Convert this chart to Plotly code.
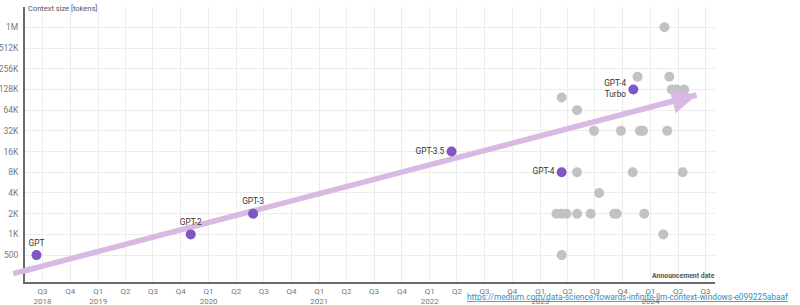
import math
from datetime import date, timedelta
import plotly.graph_objects as go

# ---- data ----
gpt_names = ["GPT", "GPT-2", "GPT-3", "GPT-3.5", "GPT-4", "GPT-4<br>Turbo"]
gpt_dates = ["2018-06-11", "2019-11-03", "2020-05-27", "2022-03-14", "2023-03-13", "2023-11-05"]
gpt_tokens = [512, 1024, 2048, 16384, 8192, 131072]
gpt_textpos = ["top center", "top center", "top center", "middle left", "middle left", "middle left"]

other_dates = [
    "2024-02-16", "2023-03-13", "2023-05-03", "2023-11-19", "2024-03-03",
    "2024-03-11", "2024-03-27", "2024-04-21",
    "2023-06-28", "2023-09-25", "2023-11-27", "2023-12-07", "2024-02-25",
    "2023-05-03", "2023-11-03", "2024-04-16",
    "2023-07-15",
    "2023-02-24", "2023-03-13", "2023-03-29", "2023-05-03", "2023-06-17",
    "2023-09-03", "2023-09-11", "2023-12-11",
    "2024-02-12",
    "2023-03-13",
]
other_tokens = [
    1048576, 100000, 65536, 200000, 200000,
    131072, 131072, 131072,
    32768, 32768, 32768, 32768, 32768,
    8192, 8192, 8192,
    4096,
    2048, 2048, 2048, 2048, 2048,
    2048, 2048, 2048,
    1024,
    512,
]

y_tickvals = [512, 1024, 2048, 4096, 8192, 16384, 32768, 65536, 131072, 262144, 524288, 1048576]
y_ticktext = ["500", "1K", "2K", "4K", "8K", "16K", "32K", "64K", "128K", "256K", "512K", "1M"]

x_tickvals = []
x_ticktext = []
for yr in range(2018, 2025):
    for q, m in ((1, "01"), (2, "04"), (3, "07"), (4, "10")):
        if (yr == 2018 and q < 3) or (yr == 2024 and q > 3):
            continue
        x_tickvals.append(f"{yr}-{m}-01")
        x_ticktext.append(f"Q{q}<br>{yr}" if (q == 1 or (yr == 2018 and q == 3)) else f"Q{q}")

x_range = ["2018-05-04", "2024-08-01"]
y_range_tokens = [208, 2 ** 20.98]

trend_start = ("2018-03-21", 271)
trend_end = ("2024-06-01", 108700)

link_text = "https://medium.com/data-science/towards-infinite-llm-context-windows-e099225abaaf"

FONT = "Roboto"
PURPLE = "#7e57c2"
GRAY = "#c2c2c2"
ARROW = "#d8b9e4"
ARROW_W = 5.5


def trend_point(f):
    d0 = date.fromisoformat(trend_start[0])
    d1 = date.fromisoformat(trend_end[0])
    d = d0 + timedelta(days=(d1 - d0).days * f)
    ly = math.log10(trend_start[1]) + f * (math.log10(trend_end[1]) - math.log10(trend_start[1]))
    return d.isoformat(), ly


fig = go.Figure()
# trend shaft (below the markers)
fig.add_trace(go.Scatter(
    x=[trend_start[0], trend_end[0]], y=[trend_start[1], trend_end[1]], mode="lines",
    line=dict(color=ARROW, width=ARROW_W), hoverinfo="skip",
))
fig.add_trace(go.Scatter(
    x=other_dates, y=other_tokens, mode="markers",
    marker=dict(size=10, color=GRAY), hoverinfo="skip", cliponaxis=False,
))
fig.add_trace(go.Scatter(
    x=gpt_dates, y=gpt_tokens, mode="markers+text",
    text=gpt_names, textposition=gpt_textpos,
    textfont=dict(family=FONT, size=8.3, color="#333333"),
    marker=dict(size=10, color=PURPLE), hoverinfo="skip", cliponaxis=False,
))

# part of the shaft outside the axis
sx, sy = trend_point(0.035)
fig.add_annotation(
    x=sx, y=sy, xref="x", yref="y",
    ax=trend_start[0], ay=math.log10(trend_start[1]), axref="x", ayref="y",
    text="", showarrow=True, arrowhead=0, arrowwidth=ARROW_W,
    arrowcolor=ARROW, standoff=0,
)
# arrow head
hx, hy = trend_point(0.95)
fig.add_annotation(
    x=trend_end[0], y=math.log10(trend_end[1]), xref="x", yref="y",
    ax=hx, ay=hy, axref="x", ayref="y",
    text="", showarrow=True, arrowhead=2, arrowsize=0.9, arrowwidth=ARROW_W,
    arrowcolor=ARROW, standoff=0,
)

fig.add_annotation(
    x=0.002, y=0.993, xref="paper", yref="paper", xanchor="left", yanchor="middle",
    text="Context size [tokens]", showarrow=False,
    font=dict(family=FONT, size=7.5, color="#555555"),
)
fig.add_annotation(
    x=1.003, y=0.023, xref="paper", yref="paper", xanchor="right", yanchor="middle",
    text="<b>Announcement date</b>", showarrow=False,
    font=dict(family=FONT, size=6.9, color="#555555"),
)
fig.add_annotation(
    x=1.1087, y=-0.053, xref="paper", yref="paper", xanchor="right", yanchor="middle",
    text="<u>" + link_text + "</u>", showarrow=False,
    font=dict(family=FONT, size=8.3, color="#1e93c6"),
)

fig.update_xaxes(
    type="date", range=x_range, tickmode="array", tickvals=x_tickvals, ticktext=x_ticktext,
    showgrid=True, gridcolor="#ececec", gridwidth=1, zeroline=False,
    showline=True, linecolor="#6b6b6b", linewidth=2, automargin=False,
    tickfont=dict(family=FONT, size=8, color="#777777"), ticks="", ticklabelstandoff=0,
)
fig.update_yaxes(
    type="log", range=[math.log10(v) for v in y_range_tokens],
    tickmode="array", tickvals=y_tickvals, ticktext=y_ticktext,
    showgrid=True, gridcolor="#ececec", gridwidth=1, zeroline=False,
    showline=True, linecolor="#6b6b6b", linewidth=2, automargin=False,
    tickfont=dict(family=FONT, size=8.5, color="#777777"), ticks="", ticklabelstandoff=3,
)
fig.update_layout(
    width=800, height=305, margin=dict(l=25, r=85, t=7, b=23),
    paper_bgcolor="white", plot_bgcolor="white", showlegend=False,
    font=dict(family=FONT),
)
fig.write_html("out.html")
